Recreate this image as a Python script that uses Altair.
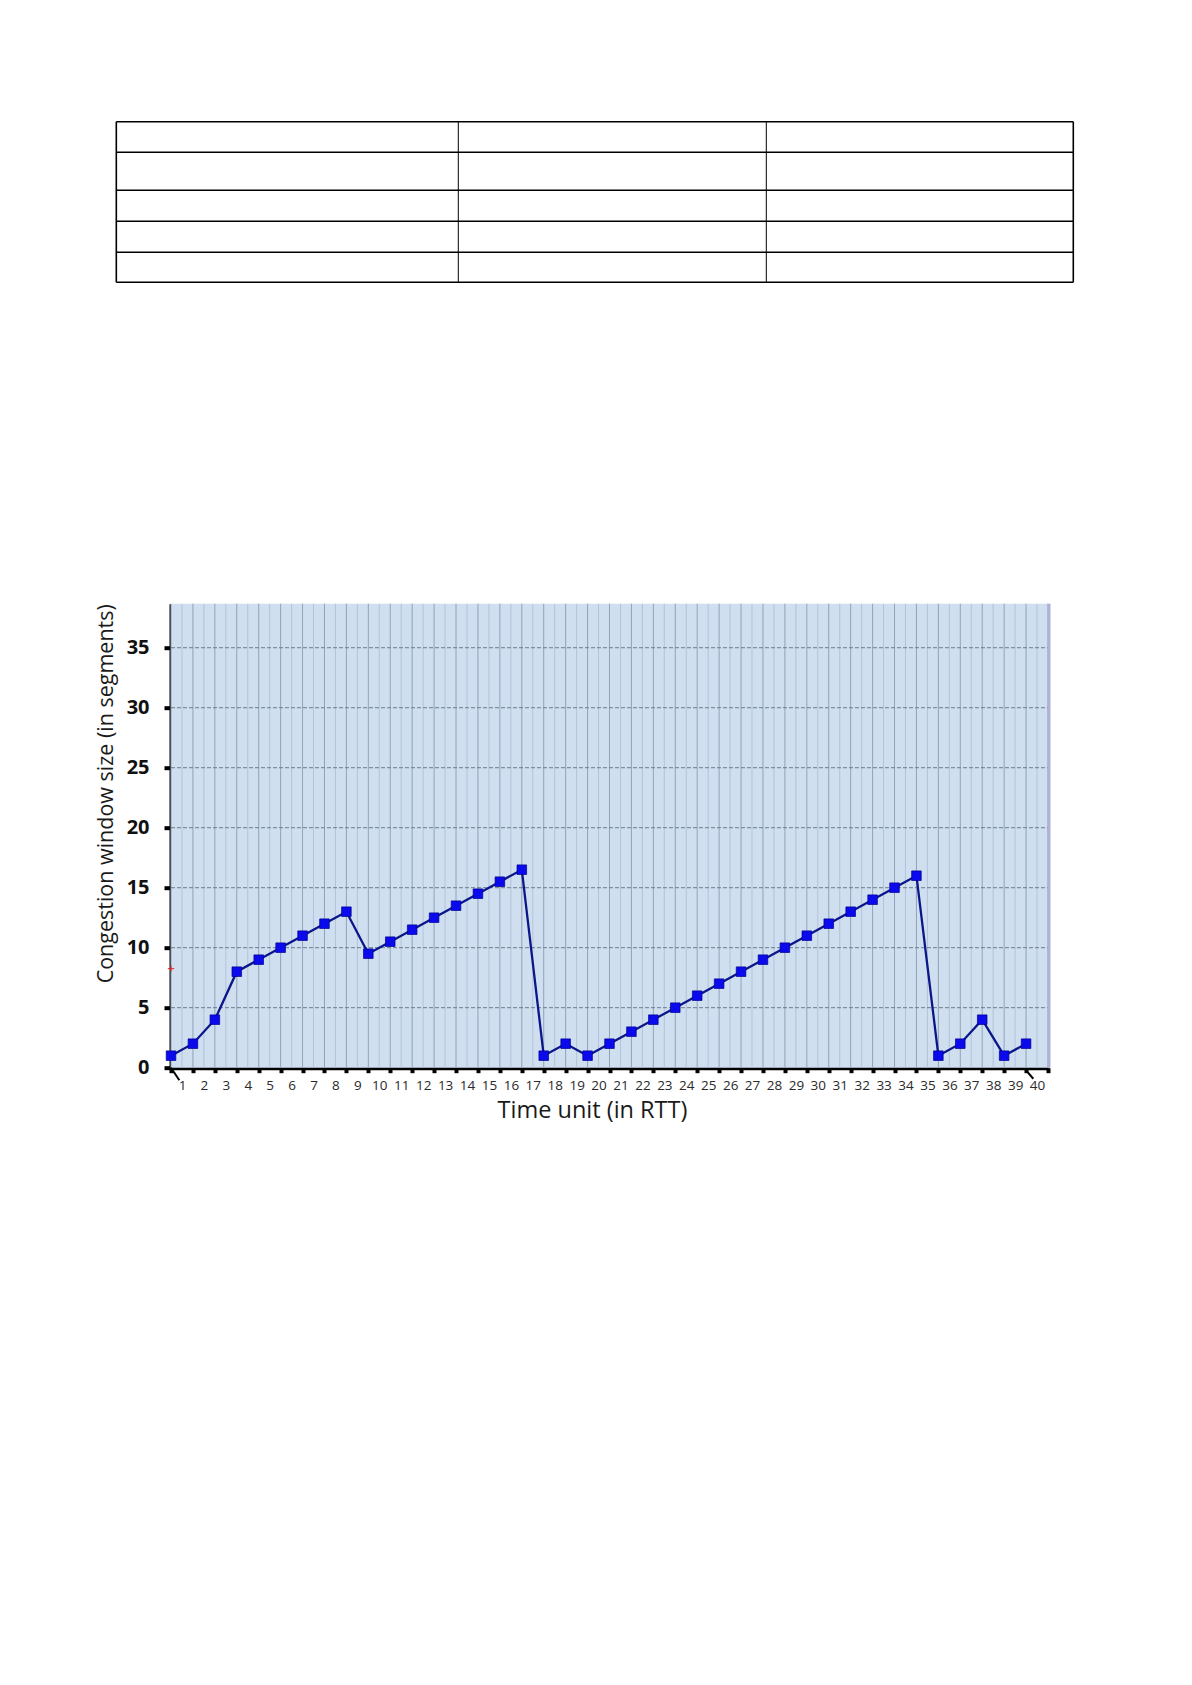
import altair as alt
import numpy as np
import pandas as pd

# ---------------- data ----------------
time_units = list(range(1, 41))
cwnd = [1, 2, 4, 8, 9, 10, 11, 12, 13,
        9.5, 10.5, 11.5, 12.5, 13.5, 14.5, 15.5, 16.5,
        1, 2, 1, 2,
        3, 4, 5, 6, 7, 8, 9, 10, 11, 12, 13, 14, 15, 16,
        1, 2, 4, 1, 2]
y_ticks = [0, 5, 10, 15, 20, 25, 30, 35]
y_grid = [5, 10, 15, 20, 25, 30, 35]
x_ticks = list(range(1, 42))
grid_x = list(np.arange(1, 41.01, 0.5))
red_mark_x = [1]
red_mark_y = [8.25]
leader_x = [1, 40.0]
leader_x2 = [1.38, 40.33]
leader_y = [0, -0.22]
leader_y2 = [-1.05, -0.92]

# empty table (edges in table units)
table_col_edges = [0, 342, 650, 957]
table_row_edges = [0, 30.6, 68.6, 99.6, 130.6, 160.6]

# ---------------- plot ----------------
W, H = 877, 464
FONT = "Open Sans"
xs = alt.Scale(domain=[1, 41], nice=False, zero=False)
ys = alt.Scale(domain=[0, 38.67], nice=False, zero=True)

df = pd.DataFrame({"t": time_units, "cwnd": cwnd})
gdf = pd.DataFrame({"g": grid_x})
gdf["major"] = (gdf["g"] % 1 == 0)
hdf_grid = pd.DataFrame({"v": y_grid})
one = pd.DataFrame({"a": [0]})

x_axis = alt.Axis(
    values=x_ticks, title="Time unit (in RTT)", grid=False,
    domainColor="black", domainWidth=4,
    tickColor="black", tickWidth=4, tickSize=5,
    labelOffset=11, labelExpr="datum.value > 40 ? '' : datum.label",
    labelFont=FONT, labelFontSize=13.5, labelColor="#2a2a2a", labelPadding=6,
    labelFlush=False, labelOverlap=False,
    titleFont=FONT, titleFontSize=23.5, titleFontWeight="normal", titleColor="#1a1a1a",
    titleX=421, titleY=50, titleBaseline="alphabetic", titleAlign="center",
)
y_axis = alt.Axis(
    values=y_ticks, title="Congestion window size (in segments)",
    grid=False,
    domainColor="black", domainWidth=4,
    tickColor="black", tickWidth=4, tickSize=7,
    labelFont=FONT, labelFontWeight="bold", labelFontSize=20, labelColor="#111111",
    labelPadding=15,
    titleFont=FONT, titleFontSize=21.5, titleFontWeight="normal", titleColor="#1a1a1a",
    titleAngle=270, titleX=-65, titleY=0, titleAlign="right", titleBaseline="middle",
)

bg = alt.Chart(one).mark_rect(color="#cfdff0").encode(
    x=alt.value(0), x2=alt.value(W), y=alt.value(0), y2=alt.value(H)
)

vgrid = alt.Chart(gdf).mark_rule(strokeWidth=1).encode(
    x=alt.X("g:Q", scale=xs, axis=x_axis),
    y=alt.value(0), y2=alt.value(H),
    color=alt.condition("datum.major", alt.value("#8fa3b9"), alt.value("#b1c4d8")),
)

hgrid = alt.Chart(hdf_grid).mark_rule(strokeWidth=1, color="#6a7a8b", strokeDash=[4, 2]).encode(
    y=alt.Y("v:Q", scale=ys, axis=y_axis),
    x=alt.value(0), x2=alt.value(W),
)

border = alt.Chart(one).mark_rule(color="#aeb2d6", strokeWidth=3).encode(
    x=alt.value(W + 1), y=alt.value(0), y2=alt.value(H)
)

line = alt.Chart(df).mark_line(color="#0a168a", strokeWidth=2.3).encode(
    x=alt.X("t:Q", scale=xs, axis=x_axis),
    y=alt.Y("cwnd:Q", scale=ys, axis=y_axis),
)
pts = alt.Chart(df).mark_point(
    shape="square", filled=True, size=92, fill="#0a0aec", stroke="#000090",
    strokeWidth=0.7, opacity=1,
).encode(
    x=alt.X("t:Q", scale=xs, axis=x_axis),
    y=alt.Y("cwnd:Q", scale=ys, axis=y_axis),
)

rdf = pd.DataFrame({"x": red_mark_x, "y": red_mark_y})
red = alt.Chart(rdf).mark_point(
    shape="M-1,0L1,0M0,-1L0,1", filled=False, stroke="#e02020", strokeWidth=1,
    size=40, opacity=1,
).encode(
    x=alt.X("x:Q", scale=xs, axis=x_axis),
    y=alt.Y("y:Q", scale=ys, axis=y_axis),
)

ldf = pd.DataFrame({"x": leader_x, "x2": leader_x2, "y": leader_y, "y2": leader_y2})
leaders = alt.Chart(ldf).mark_rule(color="black", strokeWidth=2, clip=False).encode(
    x=alt.X("x:Q", scale=xs, axis=x_axis), x2="x2:Q",
    y=alt.Y("y:Q", scale=ys, axis=y_axis), y2="y2:Q",
)

plot = alt.layer(bg, vgrid, hgrid, border, line, pts, red, leaders).properties(
    width=W, height=H
)

# ---------------- empty table ----------------
TW = 902.3
TH = 160.6
txs = alt.Scale(domain=[54.7, 957], nice=False, zero=False)
tys = alt.Scale(domain=[0, 160.6], nice=False, zero=False, reverse=True)

hdf = pd.DataFrame({"y": table_row_edges, "x0": 0, "x1": table_col_edges[-1]})
rows = alt.Chart(hdf).mark_rule(color="black", strokeWidth=1.6, clip=False).encode(
    x=alt.X("x0:Q", scale=txs, axis=None), x2="x1:Q",
    y=alt.Y("y:Q", scale=tys, axis=None),
)
outer_df = pd.DataFrame({"x": [table_col_edges[0], table_col_edges[-1]], "y0": 0, "y1": table_row_edges[-1]})
inner_df = pd.DataFrame({"x": table_col_edges[1:-1], "y0": 0, "y1": table_row_edges[-1]})
outer = alt.Chart(outer_df).mark_rule(color="black", strokeWidth=1.6, clip=False).encode(
    x=alt.X("x:Q", scale=txs, axis=None),
    y=alt.Y("y0:Q", scale=tys, axis=None), y2="y1:Q",
)
inner = alt.Chart(inner_df).mark_rule(color="black", strokeWidth=1, clip=False).encode(
    x=alt.X("x:Q", scale=txs, axis=None),
    y=alt.Y("y0:Q", scale=tys, axis=None), y2="y1:Q",
)
table = alt.layer(rows, outer, inner).properties(width=TW, height=TH)

chart = alt.vconcat(table, plot, spacing=318).properties(
    padding={"left": 87, "top": 112.7, "right": 5, "bottom": 5}
).configure_view(stroke=None)

chart.save("out.html", embed_options={"renderer": "svg", "actions": False})
